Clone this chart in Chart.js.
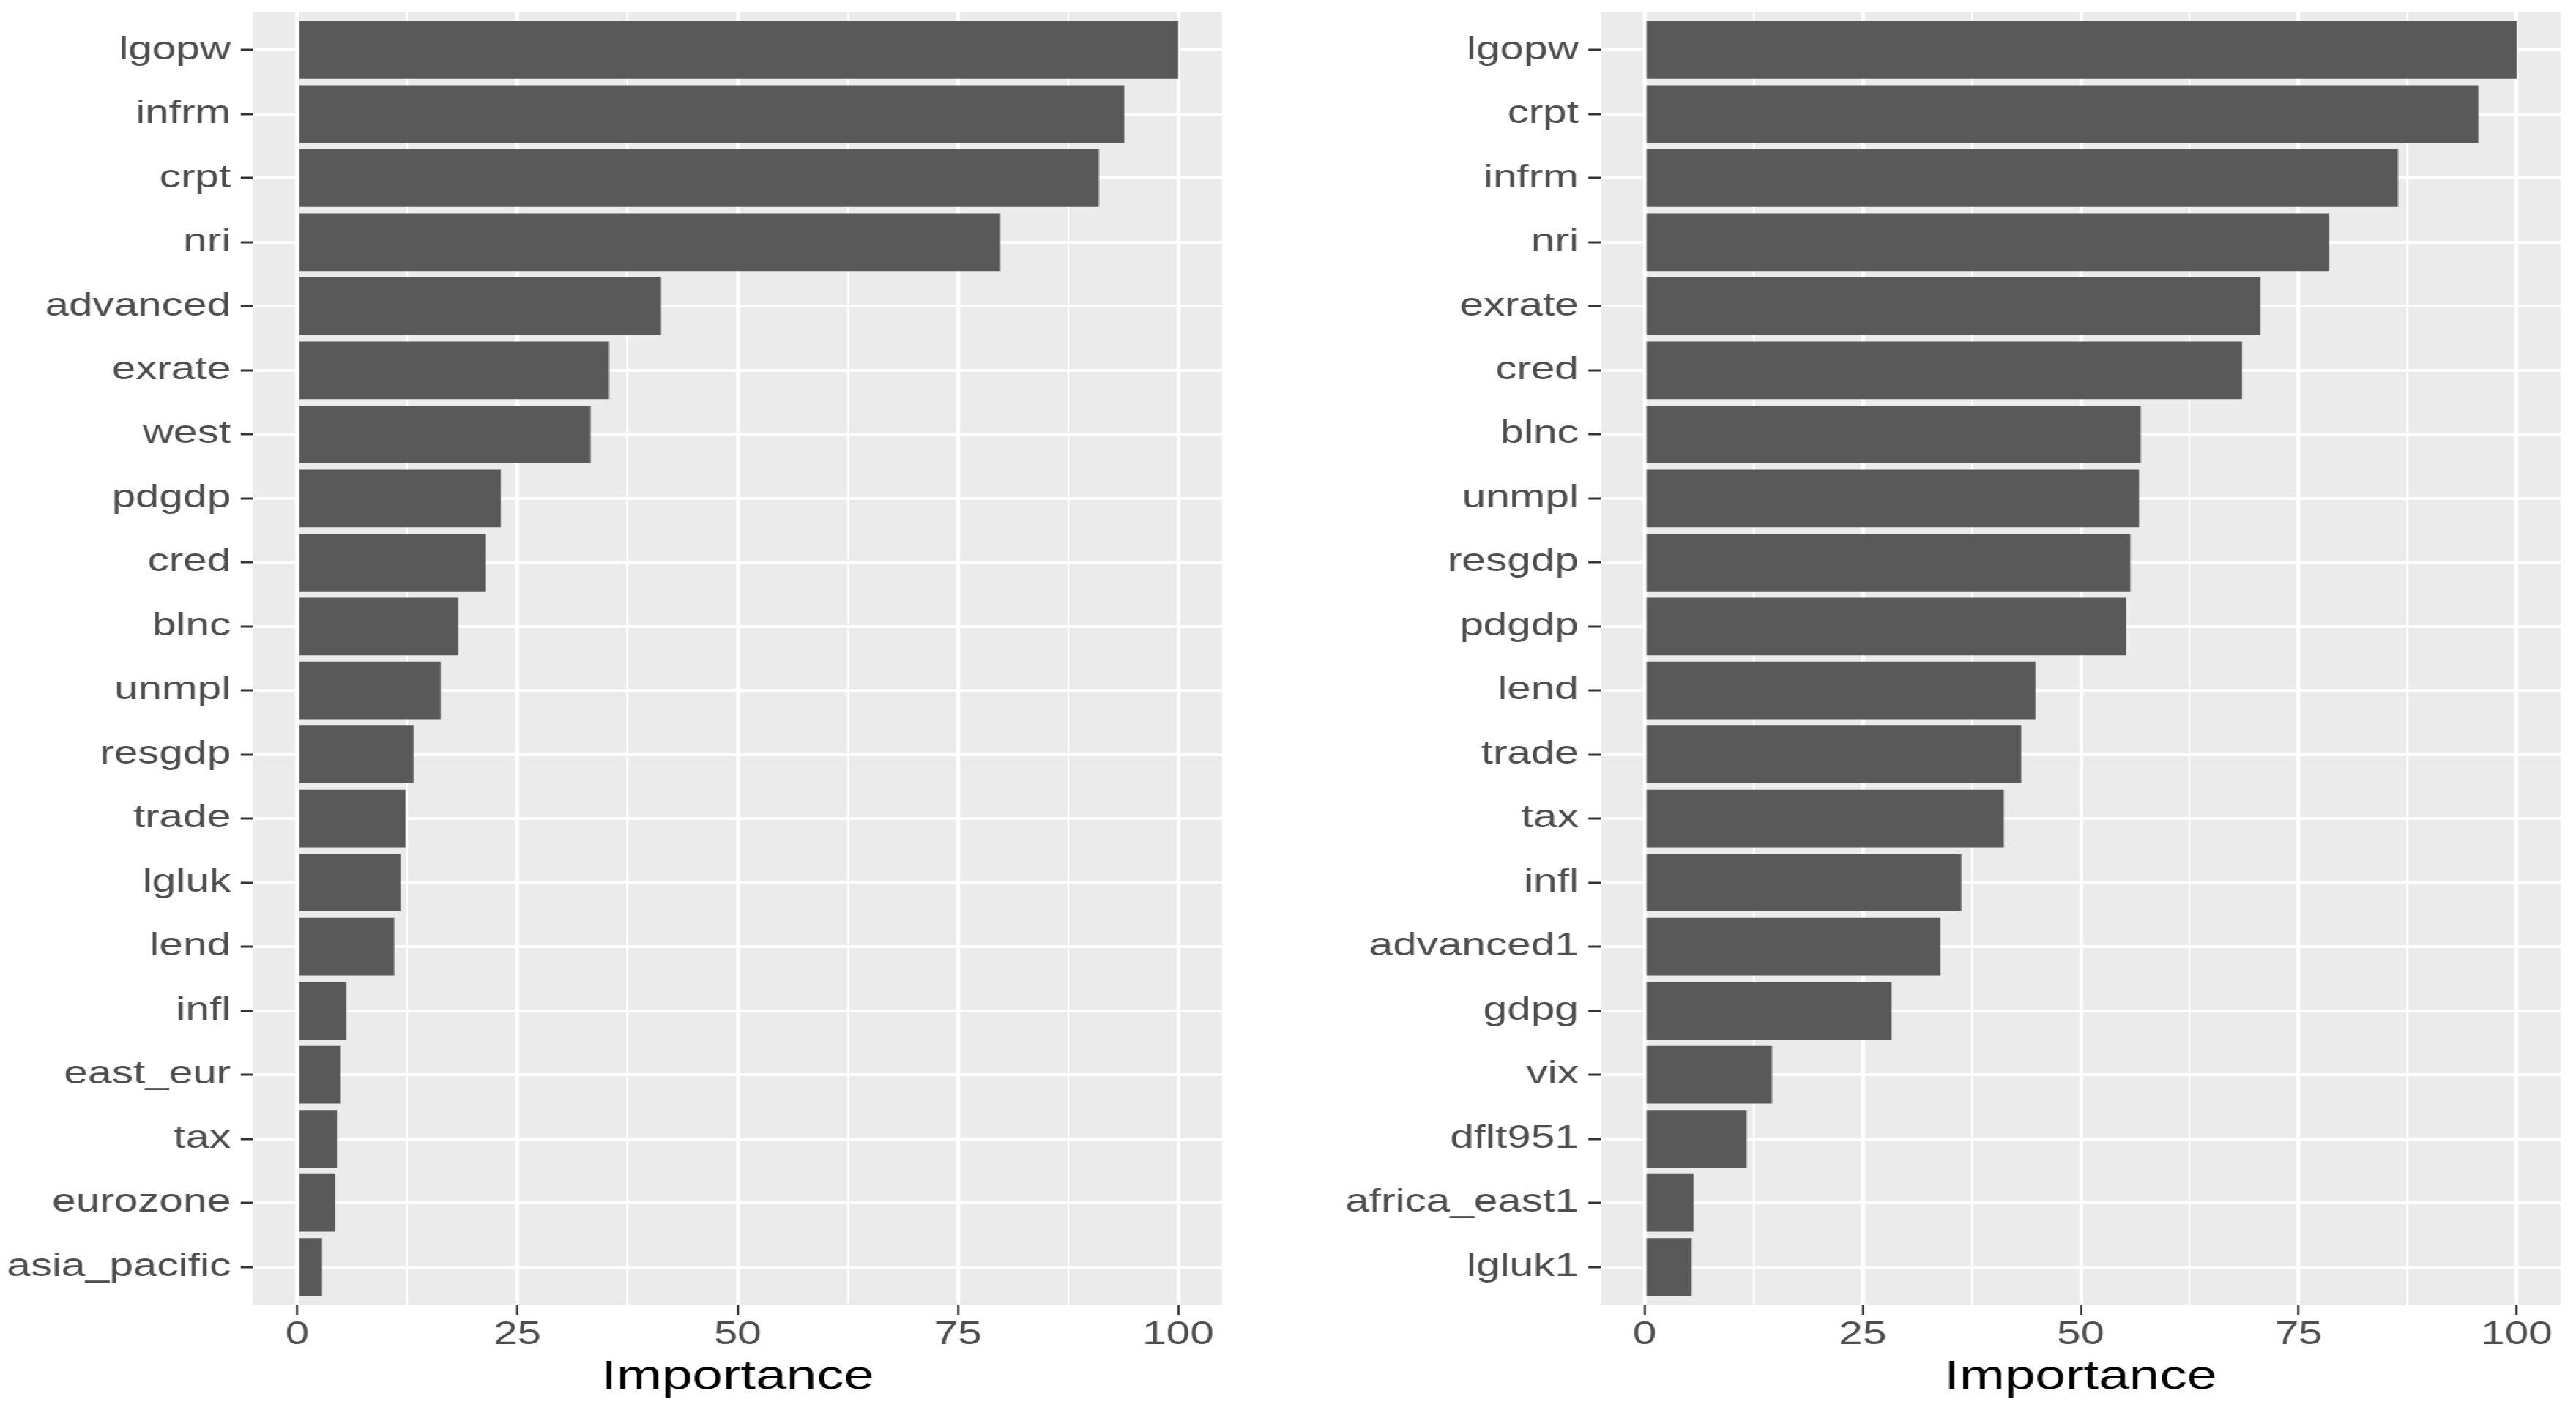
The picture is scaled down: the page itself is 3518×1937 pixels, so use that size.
<!DOCTYPE html>
<html>
<head>
<meta charset="utf-8">
<script src="https://cdn.jsdelivr.net/npm/chart.js@4/dist/chart.umd.min.js"></script>
<style>
  html, body { margin: 0; padding: 0; background: #fff; overflow: hidden; }
  /* the source image is stretched sideways, so the whole sheet is too */
  .sheet {
    position: absolute; left: 0; top: 0;
    width: 2645px; height: 1937px;
    transform: scaleX(1.33); transform-origin: 0 0;
  }
  .sheet canvas { position: absolute; top: 0; }
</style>
</head>
<body>
<div class="sheet">
  <canvas id="left" width="1290" height="1937" style="left:0"></canvas>
  <canvas id="right" width="1355" height="1937" style="left:1290px"></canvas>
</div>
<script>
const leftVars = ["lgopw", "infrm", "crpt", "nri", "advanced", "exrate", "west", "pdgdp", "cred", "blnc",
  "unmpl", "resgdp", "trade", "lgluk", "lend", "infl", "east_eur", "tax", "eurozone", "asia_pacific"];
const leftImportance = [100, 93.9, 91.0, 79.8, 41.3, 35.4, 33.3, 23.1, 21.4, 18.3,
  16.3, 13.2, 12.3, 11.7, 11.0, 5.6, 4.9, 4.5, 4.3, 2.8];

const rightVars = ["lgopw", "crpt", "infrm", "nri", "exrate", "cred", "blnc", "unmpl", "resgdp", "pdgdp",
  "lend", "trade", "tax", "infl", "advanced1", "gdpg", "vix", "dflt951", "africa_east1", "lgluk1"];
const rightImportance = [100, 95.6, 86.4, 78.5, 70.6, 68.5, 56.9, 56.7, 55.7, 55.2,
  44.8, 43.2, 41.2, 36.3, 33.9, 28.3, 14.6, 11.7, 5.6, 5.4];

const xTicks = [0, 12.5, 25, 37.5, 50, 62.5, 75, 87.5, 100];
const majorX = [0, 25, 50, 75, 100];

const FONT = "'Liberation Sans', Arial, sans-serif";
const isMajor = v => majorX.includes(v);

// grey ggplot panel behind the grid
const panelBg = {
  id: "panelBg",
  beforeDraw(chart) {
    const a = chart.chartArea;
    chart.ctx.save();
    chart.ctx.fillStyle = "#EBEBEB";
    chart.ctx.fillRect(a.left, a.top, a.right - a.left, a.bottom - a.top);
    chart.ctx.restore();
  }
};

function drawImportance(canvasId, vars, values, axisWidth, padRight) {
  const ctx = document.getElementById(canvasId);
  return new Chart(ctx, {
    type: "bar",
    data: {
      datasets: [{
        data: values.map((v, i) => ({ x: v, y: i })),
        backgroundColor: "#595959",
        barPercentage: 0.9,
        categoryPercentage: 1.0
      }]
    },
    plugins: [panelBg],
    options: {
      indexAxis: "y",
      responsive: false,
      animation: false,
      layout: { padding: { top: 16, right: padRight, bottom: 0, left: 0 } },
      plugins: { legend: { display: false }, tooltip: { enabled: false } },
      scales: {
        x: {
          type: "linear",
          min: -5,
          max: 105,
          afterBuildTicks: axis => { axis.ticks = xTicks.map(v => ({ value: v })); },
          afterFit: axis => {
            axis.height = 154;
            axis.paddingLeft = 0;
            axis.paddingRight = 0;
          },
          border: { display: false },
          grid: {
            color: "#FFFFFF",
            lineWidth: c => (isMajor(c.tick.value) ? 4 : 2),
            tickLength: 13,
            tickWidth: 2.2,
            tickColor: c => (isMajor(c.tick.value) ? "#333333" : "rgba(0,0,0,0)")
          },
          ticks: {
            autoSkip: false,
            maxRotation: 0,
            padding: 1,
            color: "#4D4D4D",
            font: { family: FONT, size: 44 },
            callback: v => (isMajor(v) ? String(v) : "")
          },
          title: {
            display: true,
            text: "Importance",
            color: "#000000",
            font: { family: FONT, size: 56 },
            padding: { top: 0, bottom: 22 }
          }
        },
        y: {
          type: "linear",
          reverse: true,
          offset: false,
          min: -0.6,
          max: vars.length - 0.4,
          afterBuildTicks: axis => { axis.ticks = vars.map((_, i) => ({ value: i })); },
          afterFit: axis => {
            axis.width = axisWidth;
            axis.paddingTop = 0;
            axis.paddingBottom = 0;
          },
          border: { display: false },
          grid: {
            offset: false,
            color: "#FFFFFF",
            lineWidth: 4,
            tickLength: 13,
            tickWidth: 3,
            tickColor: "#333333"
          },
          ticks: {
            autoSkip: false,
            padding: 10,
            color: "#4D4D4D",
            font: { family: FONT, size: 44 },
            callback: v => vars[v]
          }
        }
      }
    }
  });
}

drawImportance("left", leftVars, leftImportance, 260, 35);
drawImportance("right", rightVars, rightImportance, 354, 16);
</script>
</body>
</html>
